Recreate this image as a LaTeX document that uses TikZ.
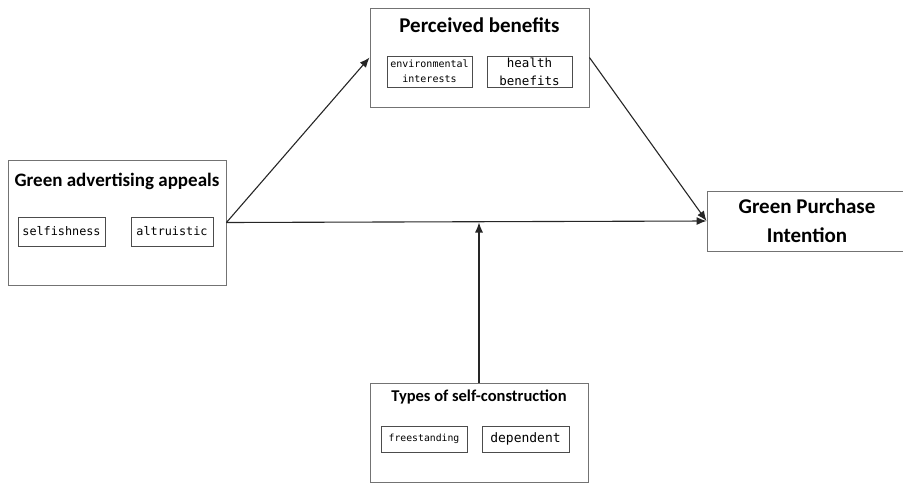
\documentclass[tikz,border=0pt]{standalone}
\usepackage{fontspec}
\setmainfont{Carlito}
\newfontfamily\monofont{DejaVu Sans Mono}
\usetikzlibrary{arrows.meta,positioning,calc}

\begin{document}
\begin{tikzpicture}[x=1pt,y=-1pt,>={Latex[length=10pt,width=8pt]}]
        \tikzstyle{outer}=[draw=black!55,line width=0.9pt,inner sep=0pt]
        \tikzstyle{inner}=[draw=black!70,line width=0.9pt,inner sep=1pt,align=center]
        \tikzstyle{ttl}=[font=\bfseries,inner sep=0pt]
        \tikzstyle{conn}=[->,line width=1.1pt,black!85]
        \useasboundingbox (0,0) rectangle (903,483);
        % outer boxes
        \node[outer,minimum width=200pt,minimum height=60pt,align=center,font=\fontsize{21}{29}\bfseries] (gp) at (807,221) {Green Purchase\\Intention};
        \node[outer,minimum width=218pt,minimum height=125pt] (ga) at (117,222.5) {};
        \node[outer,minimum width=219pt,minimum height=99pt] (pb) at (479.5,57.5) {};
        \node[outer,minimum width=218pt,minimum height=99pt] (sc) at (479,432.5) {};
        % titles
        \node[ttl,font=\fontsize{19}{22}\bfseries] (gat) at (117,181) {Green advertising appeals};
        \node[ttl,font=\fontsize{21}{24}\bfseries] (pbt) at (479.5,25) {Perceived benefits};
        \node[ttl,font=\fontsize{16.5}{19}\bfseries] (sct) at (479,397) {Types of self-construction};
        % sub boxes
        \node[inner,minimum width=87pt,minimum height=29pt,font=\monofont\fontsize{11.8}{13}\selectfont] (sf) at (61.5,231.5) {selfishness};
        \node[inner,minimum width=82pt,minimum height=29pt,font=\monofont\fontsize{11.8}{13}\selectfont] (al) at (172,231.5) {altruistic};
        \node[inner,minimum width=85pt,minimum height=31pt,font=\monofont\fontsize{10}{15}\selectfont] (ei) at (429.5,71.5) {environmental\\interests};
        \node[inner,minimum width=85pt,minimum height=31pt,font=\monofont\fontsize{12.5}{18}\selectfont] (hb) at (529.5,71.5) {health\\benefits};
        \node[inner,minimum width=86pt,minimum height=26pt,font=\monofont\fontsize{9.8}{12}\selectfont] (fs) at (424,439) {freestanding};
        \node[inner,minimum width=87pt,minimum height=26pt,font=\monofont\fontsize{13}{15}\selectfont] (dp) at (525.5,439) {dependent};
        % paths
        \draw[conn] (ga.east) -- (pb.west);
        \draw[conn] (pb.east) -- (gp.west);
        \draw[conn] (ga.east) -- (gp.west);
        \draw[conn] (sc.north) -- (sc.north |- ga.east);
      \end{tikzpicture}
\end{document}
